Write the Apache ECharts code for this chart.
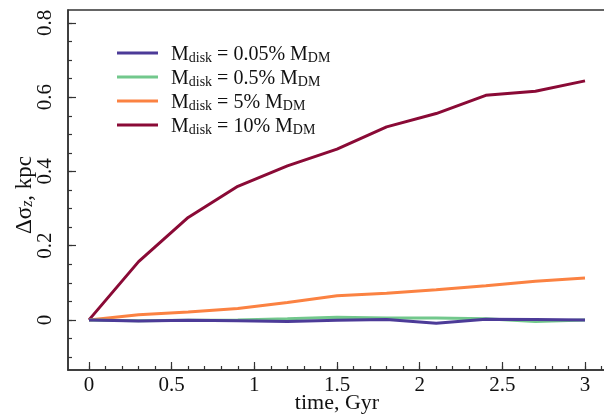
<!DOCTYPE html>
<html>
<head>
<meta charset="utf-8">
<script src="https://cdn.jsdelivr.net/npm/echarts@6/dist/echarts.min.js"></script>
<style>
  html, body { margin: 0; padding: 0; background: #fff; }
  #chart { width: 604px; height: 414px; }
</style>
</head>
<body>
<div id="chart"></div>
<script>
// time in Gyr
var times = [0, 0.3, 0.6, 0.9, 1.2, 1.5, 1.8, 2.1, 2.4, 2.7, 3.0]
// delta sigma_z, kpc
var m005 = [0, -0.003, -0.001, -0.002, -0.004, -0.001, 0.001, -0.009, 0.002, 0.001, 0]
var m05 = [0, -0.002, -0.001, 0, 0.003, 0.007, 0.005, 0.005, 0.003, -0.004, 0]
var m5 = [0, 0.014, 0.021, 0.031, 0.047, 0.065, 0.072, 0.081, 0.092, 0.104, 0.113]
var m10 = [0, 0.157, 0.276, 0.36, 0.415, 0.46, 0.52, 0.556, 0.605, 0.616, 0.644]

var seriesNames = ['0.05%', '0.5%', '5%', '10%']
var xMajor = [0, 0.5, 1, 1.5, 2, 2.5, 3]
var xMinor = [0, 0.1, 0.2, 0.3, 0.4, 0.5, 0.6, 0.7, 0.8, 0.9, 1, 1.1, 1.2, 1.3, 1.4, 1.5, 1.6, 1.7, 1.8, 1.9, 2, 2.1, 2.2, 2.3, 2.4, 2.5, 2.6, 2.7, 2.8, 2.9, 3, 3.1]
var yMajor = [0, 0.2, 0.4, 0.6, 0.8]
var yMinor = [-0.1, -0.05, 0, 0.05, 0.1, 0.15, 0.2, 0.25, 0.3, 0.35, 0.4, 0.45, 0.5, 0.55, 0.6, 0.65, 0.7, 0.75, 0.8]

var colors = ['#4c3b98', '#72c88c', '#fb8242', '#8a0a36']
var font = '"Liberation Serif", "DejaVu Serif", serif'

function pairs(ys) {
  return times.map(function (t, i) { return [t, ys[i]] })
}

var chart = echarts.init(document.getElementById('chart'))

var xMin = -0.127, xMax = 3.127
var yMin = -0.135, yMax = 0.835

function xAx(ticks, len, labels) {
  return {
    type: 'value', min: xMin, max: xMax, position: 'bottom',
    axisLine: { show: labels, onZero: false, lineStyle: { color: '#333', width: 1.5 } },
    axisTick: { show: true, inside: true, length: len, customValues: ticks, lineStyle: { color: '#333', width: 1.2 } },
    axisLabel: labels ? { show: true, customValues: xMajor, formatter: function (v) { return String(v) }, fontFamily: font, fontSize: 21, color: '#111', margin: 5 } : { show: false },
    splitLine: { show: false },
    name: labels ? 'time, Gyr' : '',
    nameLocation: 'middle', nameGap: 22, nameMoveOverlap: false,
    nameTextStyle: { fontFamily: font, fontSize: 22, color: '#111' }
  }
}

function yAx(ticks, len, labels) {
  return {
    type: 'value', min: yMin, max: yMax, position: 'left',
    axisLine: { show: labels, onZero: false, lineStyle: { color: '#333', width: 1.5 } },
    axisTick: { show: true, inside: true, length: len, customValues: ticks, lineStyle: { color: '#333', width: 1.2 } },
    axisLabel: labels ? { show: true, customValues: yMajor, rotate: 90, formatter: function (v) { return String(v) }, fontFamily: font, fontSize: 21, color: '#111', margin: 12 } : { show: false },
    splitLine: { show: false },
    name: labels ? '{a|\u0394\u03c3}{z|z}{a|, kpc}' : '',
    nameLocation: 'middle', nameGap: 32, nameRotate: 90, nameMoveOverlap: false,
    nameTextStyle: {
      fontFamily: font, fontSize: 23, color: '#111',
      padding: [0, 10, 0, 0],
      rich: {
        a: { fontFamily: font, fontSize: 23, color: '#111', lineHeight: 26, verticalAlign: 'bottom' },
        z: { fontFamily: font, fontSize: 16, fontStyle: 'italic', color: '#111', lineHeight: 16, verticalAlign: 'bottom' }
      }
    }
  }
}

var series = [m10, m5, m05, m005].map(function (ys, k) {
  var idx = 3 - k
  return {
    name: seriesNames[idx],
    type: 'line',
    data: pairs(ys),
    showSymbol: false,
    symbol: 'none',
    z: 2 + k,
    lineStyle: { color: colors[idx], width: 3 },
    itemStyle: { color: colors[idx] }
  }
})

chart.setOption({
  animation: false,
  backgroundColor: '#fff',
  grid: {
    left: 68, right: -2, top: 10, bottom: 44,
    outerBoundsMode: 'none', containLabel: false,
    show: true, borderColor: '#333', borderWidth: 1.5, backgroundColor: 'transparent'
  },
  legend: {
    orient: 'vertical', left: 112, top: 40,
    icon: 'rect', itemWidth: 41, itemHeight: 3, itemGap: 4,
    data: seriesNames,
    formatter: function (n) {
      return '{m|M}{s|disk}{m| = ' + n + ' M}{s|DM}'
    },
    textStyle: {
      rich: {
        m: { fontFamily: font, fontSize: 20, color: '#111', lineHeight: 24, verticalAlign: 'bottom' },
        s: { fontFamily: font, fontSize: 14, color: '#111', lineHeight: 14, verticalAlign: 'bottom' }
      },
      padding: [0, 0, 0, 8]
    }
  },
  xAxis: [xAx(xMajor, 8, true), xAx(xMinor, 4, false)],
  yAxis: [yAx(yMajor, 8, true), yAx(yMinor, 4, false)],
  series: series
})
</script>
</body>
</html>
